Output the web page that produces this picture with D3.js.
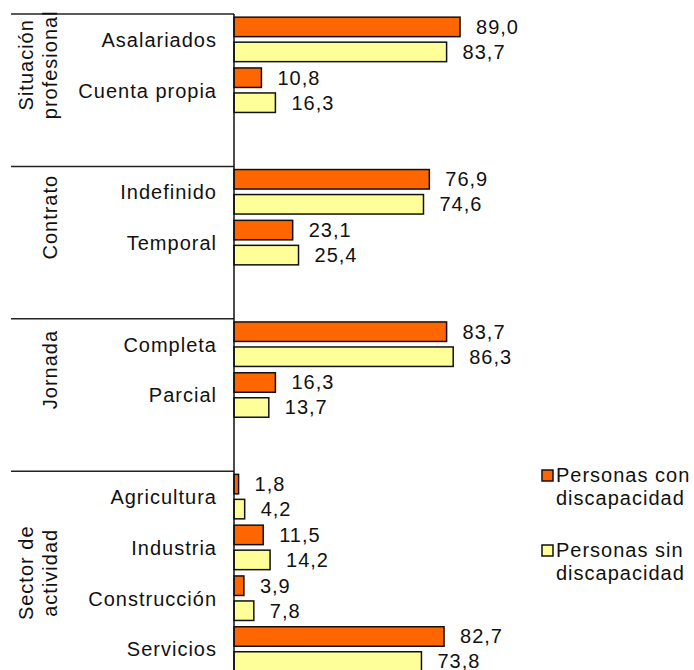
<!DOCTYPE html>
<html>
  <head>
    <meta http-equiv="Content-Type" content="text/html; charset=UTF-8" />
    <title>Ocupados según discapacidad</title>
    <style>
      body { margin: 0; background: #fff; }
      text { font-family: 'Liberation Sans', Arial, sans-serif; fill: #111; }
    </style>
  </head>
  <body>
    <div id="chart"></div>
    <script src="https://cdnjs.cloudflare.com/ajax/libs/d3/7.8.5/d3.min.js"></script>
    <script>
const groups = [['Situación', 'profesional'], ['Contrato'], ['Jornada'], ['Sector de', 'actividad']],
      categories = ['Asalariados', 'Cuenta propia', 'Indefinido', 'Temporal', 'Completa', 'Parcial',
                    'Agricultura', 'Industria', 'Construcción', 'Servicios'],
      categoryGroup = [0, 0, 1, 1, 2, 2, 3, 3, 3, 3],
      conDiscapacidad = [89.0, 10.8, 76.9, 23.1, 83.7, 16.3, 1.8, 11.5, 3.9, 82.7],
      sinDiscapacidad = [83.7, 16.3, 74.6, 25.4, 86.3, 13.7, 4.2, 14.2, 7.8, 73.8],
      seriesNames = [['Personas con', 'discapacidad'], ['Personas sin', 'discapacidad']],
      seriesColors = ['#ff6600', '#ffff99'];

const width = 694, height = 670;
const fmt = v => v.toFixed(1).replace('.', ',');

// one empty slot after every group but the last, as in the original sheet
const slots = [];
groups.forEach((g, gi) => {
  categories.forEach((c, ci) => { if (categoryGroup[ci] === gi) slots.push(c); });
  if (gi < groups.length - 1) slots.push('__gap' + gi);
});

const svg = d3.select('#chart').append('svg')
  .attr('width', width)
  .attr('height', height);

const y = d3.scaleBand()
  .domain(slots)
  .range([14, 14 + slots.length * 50.8]);

const ySeries = d3.scaleBand()
  .domain([0, 1])
  .range([0, y.bandwidth()])
  .paddingInner(0.22)
  .paddingOuter(0.126);

const x = d3.scaleLinear()
  .domain([0, 100])
  .range([234, 488]);

// title (cut off by the frame in the source picture, only descenders peek in)
svg.append('text')
  .attr('x', 603)
  .attr('y', -3.8)
  .attr('text-anchor', 'end')
  .style('font-size', '20px')
  .style('font-weight', 'bold')
  .text('Ocupados según sexo (%)');

// group separators
const groupStart = groups.map((g, gi) => y(categories[categoryGroup.indexOf(gi)]));
svg.append('g')
  .selectAll('line')
  .data(groupStart)
  .enter()
  .append('line')
  .attr('x1', 11).attr('x2', x(0))
  .attr('y1', d => d).attr('y2', d => d)
  .attr('stroke', '#222')
  .attr('stroke-width', 1.5);

// group titles, rotated
const gTitles = svg.append('g')
  .selectAll('text')
  .data(groups)
  .enter()
  .append('text')
  .attr('text-anchor', 'middle')
  .style('font-size', '20px')
  .style('letter-spacing', '1px')
  .attr('transform', (d, i) => {
    const last = categories.filter((c, ci) => categoryGroup[ci] === i).slice(-1)[0];
    const mid = (groupStart[i] + y(last) + y.bandwidth()) / 2;
    return `translate(0,${mid}) rotate(-90)`;
  });
gTitles.selectAll('tspan')
  .data(d => d.map((line, i) => ({ line, shift: (i - d.length + 1) * 24 })))
  .enter()
  .append('tspan')
  .attr('x', 0)
  .attr('y', d => 57 + d.shift)
  .text(d => d.line);

// category labels
svg.append('g')
  .selectAll('text')
  .data(categories)
  .enter()
  .append('text')
  .attr('x', 217)
  .attr('y', d => y(d) + y.bandwidth() / 2 + 7.3)
  .attr('text-anchor', 'end')
  .style('font-size', '20px')
  .style('letter-spacing', '1px')
  .text(d => d);

// bars
const rows = categories.map((c, i) => ({ c, vals: [conDiscapacidad[i], sinDiscapacidad[i]] }));
const cat = svg.append('g')
  .selectAll('g')
  .data(rows)
  .enter()
  .append('g')
  .attr('transform', d => `translate(0,${y(d.c)})`);

cat.selectAll('rect')
  .data(d => d.vals)
  .enter()
  .append('rect')
  .attr('x', x(0))
  .attr('y', (d, i) => ySeries(i))
  .attr('width', d => x(d) - x(0))
  .attr('height', ySeries.bandwidth())
  .attr('fill', (d, i) => seriesColors[i])
  .attr('stroke', '#111')
  .attr('stroke-width', 1.5);

cat.selectAll('text')
  .data(d => d.vals)
  .enter()
  .append('text')
  .attr('x', d => x(d) + 16)
  .attr('y', (d, i) => ySeries(i) + ySeries.bandwidth() / 2 + 7)
  .style('font-size', '20px')
  .style('letter-spacing', '1px')
  .text(d => fmt(d));

// category axis line
svg.append('line')
  .attr('x1', x(0)).attr('x2', x(0))
  .attr('y1', y.range()[0]).attr('y2', y.range()[1])
  .attr('stroke', '#111')
  .attr('stroke-width', 1.5);

// legend
const legend = svg.append('g')
  .selectAll('g')
  .data(seriesNames)
  .enter()
  .append('g')
  .attr('transform', (d, i) => `translate(542,${470 + i * 75})`);
legend.append('rect')
  .attr('width', 11).attr('height', 11)
  .attr('fill', (d, i) => seriesColors[i])
  .attr('stroke', '#111')
  .attr('stroke-width', 1.5);
legend.append('text')
  .style('font-size', '20px')
  .style('letter-spacing', '1px')
  .selectAll('tspan')
  .data(d => d)
  .enter()
  .append('tspan')
  .attr('x', 14)
  .attr('y', (d, i) => 12 + i * 22.5)
  .text(d => d);
    </script>
  </body>
</html>
